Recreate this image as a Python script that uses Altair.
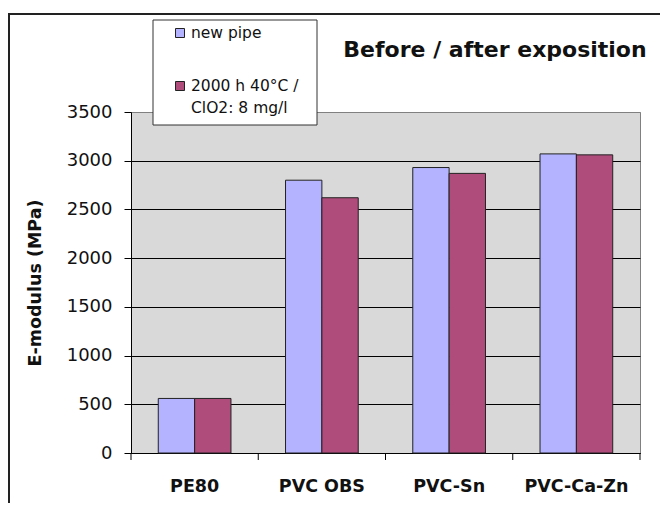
import altair as alt
import pandas as pd

# ---- data ----
categories = ["PE80", "PVC OBS", "PVC-Sn", "PVC-Ca-Zn"]
series = ["new pipe", "2000 h 40°C / ClO2: 8 mg/l"]
new_pipe = [560, 2800, 2930, 3070]
exposed = [560, 2620, 2870, 3060]
y_ticks = [0, 500, 1000, 1500, 2000, 2500, 3000, 3500]
colors = ["#B3B3FF", "#B04C7C"]
chart_title = "Before / after exposition"
y_title = "E-modulus (MPa)"

rows = []
for c, a, b in zip(categories, new_pipe, exposed):
    rows.append({"cat": c, "series": series[0], "value": a})
    rows.append({"cat": c, "series": series[1], "value": b})
df = pd.DataFrame(rows)

W, H = 509, 341
FONT = "DejaVu Sans"
one = pd.DataFrame({"d": [0]})

bars = alt.Chart(df).mark_bar(stroke="#222222", strokeWidth=1).encode(
    x=alt.X(
        "cat:N", sort=categories,
        scale=alt.Scale(paddingInner=0, paddingOuter=0),
        axis=alt.Axis(title=None, ticks=False, labelAngle=0, labelFont=FONT,
                      labelFontSize=17.5, labelFontWeight="bold", labelColor="#111111",
                      labelPadding=24, domainColor="black", grid=False),
    ),
    xOffset=alt.XOffset("series:N", sort=series,
                        scale=alt.Scale(paddingOuter=0.75, paddingInner=0)),
    y=alt.Y(
        "value:Q",
        scale=alt.Scale(domain=[0, 3500], nice=False),
        axis=alt.Axis(values=y_ticks, format="d", title=y_title, grid=True,
                      gridColor={"expr": "datum.value >= 3500 ? '#808080' : '#000000'"},
                      gridWidth=1, gridOpacity=1,
                      labelFont=FONT, labelFontSize=18, labelColor="#111111",
                      labelPadding=12, tickSize=7, tickColor="black", domainColor="black",
                      titleFont=FONT, titleFontSize=17.5, titleFontWeight="bold",
                      titleColor="#111111", titleX=-96, titleY=H / 2, titleAngle=270,
                      titleAlign="center", titleBaseline="middle"),
    ),
    color=alt.Color("series:N", sort=series,
                    scale=alt.Scale(domain=series, range=colors), legend=None),
)

tick_df = pd.DataFrame({"b": list(range(len(categories) + 1))})
xticks = alt.Chart(tick_df).mark_rule(color="black", strokeWidth=1).encode(
    x=alt.X("b:Q", scale=alt.Scale(domain=[0, len(categories)], nice=False, zero=False), axis=None),
    y=alt.value(H), y2=alt.value(H + 7),
)

frame_left = alt.Chart(one).mark_rule(color="#222222", strokeWidth=2).encode(
    x=alt.value(-122), y=alt.value(-99), y2=alt.value(H + 120))
frame_top = alt.Chart(one).mark_rule(color="#222222", strokeWidth=2).encode(
    x=alt.value(-123), x2=alt.value(W + 120), y=alt.value(-98))

title_mark = alt.Chart(one).mark_text(
    font=FONT, fontSize=22, fontWeight="bold", align="center", baseline="alphabetic",
    color="#111111").encode(x=alt.value(364), y=alt.value(-55), text=alt.value(chart_title))

legend_box = alt.Chart(one).mark_rect(fill="white", stroke="#333333", strokeWidth=1).encode(
    x=alt.value(22), x2=alt.value(186), y=alt.value(-92), y2=alt.value(13))

sq1 = alt.Chart(one).mark_square(size=81, filled=True, fill=colors[0], stroke="#222222",
                                 strokeWidth=1, opacity=1).encode(x=alt.value(49), y=alt.value(-79))
sq2 = alt.Chart(one).mark_square(size=81, filled=True, fill=colors[1], stroke="#222222",
                                 strokeWidth=1, opacity=1).encode(x=alt.value(49), y=alt.value(-26))

parts = series[1].split(" / ")
leg_txt = dict(font=FONT, fontSize=15.5, align="left", baseline="middle", color="#111111")
t1 = alt.Chart(one).mark_text(**leg_txt).encode(x=alt.value(60), y=alt.value(-79), text=alt.value(series[0]))
t2 = alt.Chart(one).mark_text(**leg_txt).encode(x=alt.value(60), y=alt.value(-26), text=alt.value(parts[0] + " /"))
t3 = alt.Chart(one).mark_text(**leg_txt).encode(x=alt.value(60), y=alt.value(-4), text=alt.value(parts[1]))

chart = alt.layer(
    bars, xticks, frame_left, frame_top, title_mark, legend_box, sq1, sq2, t1, t2, t3
).resolve_scale(x="independent").properties(
    width=W, height=H,
    autosize=alt.AutoSizeParams(type="none"),
    padding={"left": 123, "top": 104, "right": 20, "bottom": 50},
    background="white",
).configure_view(fill="#D9D9D9", stroke="#808080", strokeWidth=1)

chart.save("out.html", embed_options={"renderer": "svg", "actions": False})
